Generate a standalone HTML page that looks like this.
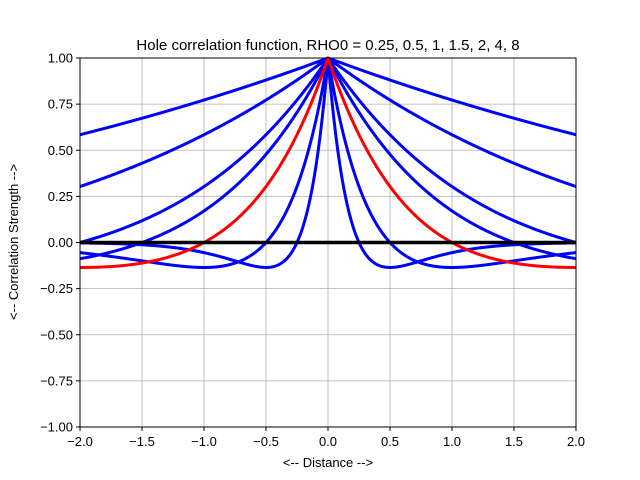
<!DOCTYPE html>
<html><head><meta charset="utf-8"><style>
body{margin:0;background:#fff;}
svg{display:block;font-family:"Liberation Sans","DejaVu Sans",sans-serif;}
</style></head><body>
<svg id="s" width="640" height="480" xmlns="http://www.w3.org/2000/svg">
<rect width="640" height="480" fill="#fff"/>
<g id="grid" stroke="#b0b0b0" stroke-width="0.8"></g>
<g id="curves" fill="none" stroke-width="3" stroke-linejoin="round"></g>
<rect x="80" y="58" width="496" height="369" fill="none" stroke="#000" stroke-width="1"/>
<g id="ticks" font-size="13" fill="#000"></g>
<text x="328" y="50" text-anchor="middle" font-size="15">Hole correlation function, RHO0 = 0.25, 0.5, 1, 1.5, 2, 4, 8</text>
<text x="328" y="467" text-anchor="middle" font-size="13">&lt;-- Distance --&gt;</text>
<text transform="translate(18,242) rotate(-90)" text-anchor="middle" font-size="13">&lt;-- Correlation Strength --&gt;</text>
</svg>
<script>
var NS="http://www.w3.org/2000/svg";
function X(x){return 80+(x+2)*124;}
function Y(y){return 58+(1-y)*184.5;}
function el(t,a,p,txt){var e=document.createElementNS(NS,t);for(var k in a)e.setAttribute(k,a[k]);if(txt!==undefined)e.textContent=txt;p.appendChild(e);return e;}
var g=document.getElementById('grid'),tk=document.getElementById('ticks'),cv=document.getElementById('curves');
var xs=[-2,-1.5,-1,-0.5,0,0.5,1,1.5,2];
xs.forEach(function(v){var x=X(v);el('line',{x1:x,x2:x,y1:58,y2:427},g);
el('line',{x1:x,x2:x,y1:427,y2:431,stroke:'#000'},tk);
el('text',{x:x,y:446,'text-anchor':'middle'},tk,(v<0?'\u2212':'')+Math.abs(v).toFixed(1));});
for(var i=0;i<9;i++){var v=1-i*0.25,y=Y(v);el('line',{x1:80,x2:576,y1:y,y2:y},g);
el('line',{x1:76,x2:80,y1:y,y2:y,stroke:'#000'},tk);
el('text',{x:73,y:y+4.5,'text-anchor':'end'},tk,(v<0?'\u2212':'')+Math.abs(v).toFixed(2));}
function curve(rho,col){var d='';for(var i=0;i<=800;i++){var x=-2+i*4/800;var r=Math.abs(x)/rho;var f=(1-r)*Math.exp(-r);d+=(i?'L':'M')+X(x).toFixed(2)+' '+Y(f).toFixed(2);}
el('path',{d:d,stroke:col},cv);}
[0.25,0.5,1.5,2,4,8].forEach(function(r){curve(r,'#0000ff');});
curve(1,'#ff0000');
el('line',{x1:80,x2:576,y1:Y(0),y2:Y(0),stroke:'#000','stroke-width':3.5},cv);
</script>
</body></html>
